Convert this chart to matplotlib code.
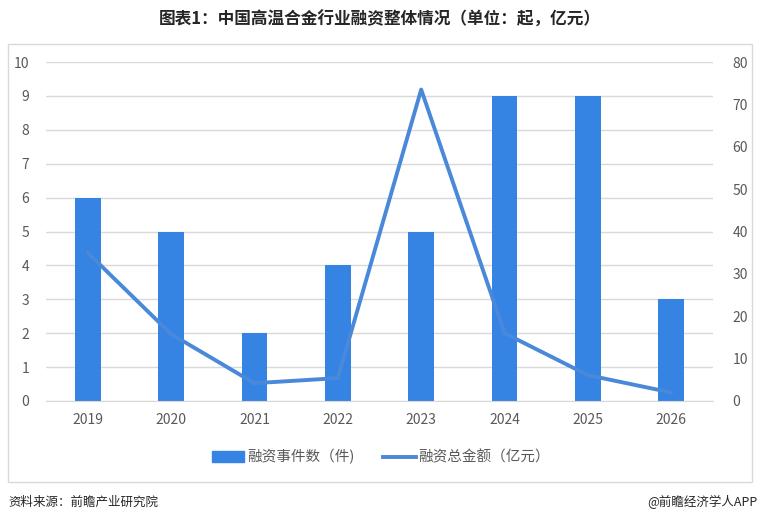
import numpy as np
import matplotlib.pyplot as plt
from matplotlib.patches import Rectangle

plt.rcParams['font.family'] = ['Noto Sans CJK SC', 'DejaVu Sans']

years = ["2019", "2020", "2021", "2022", "2023", "2024", "2025", "2026"]
deal_counts = [6, 5, 2, 4, 5, 9, 9, 3]
deal_amounts = [35, 15.8, 4.2, 5.4, 73.5, 16, 6.1, 2.0]

bar_color = "#3583E3"
line_color = "#4A88D9"
grid_color = "#D9D9D9"
text_color = "#595959"

fig = plt.figure(figsize=(7.6, 5.24), dpi=100)

# chart frame
fig.patches.append(Rectangle((8 / 760, 1 - 482 / 524), 744 / 760, 438 / 524,
                             transform=fig.transFigure, fill=False,
                             edgecolor=grid_color, linewidth=1.0))

ax = fig.add_axes([46 / 760, 1 - 401 / 524, 667 / 760, 339 / 524])
x = np.arange(len(years))
ax.bar(x, deal_counts, width=0.31, color=bar_color, zorder=2)
ax.set_xlim(-0.5, len(years) - 0.5)
ax.set_ylim(0, 10)
ax.set_yticks(range(0, 11))
ax.set_xticks(x)
ax.set_xticklabels(years)
ax.grid(axis="y", color=grid_color, linewidth=1.0, zorder=0)
for s in ["top", "left", "right"]:
    ax.spines[s].set_visible(False)
ax.spines["bottom"].set_color(grid_color)
ax.tick_params(axis="both", length=0, colors=text_color, labelsize=10)
ax.tick_params(axis="y", pad=12)
ax.tick_params(axis="x", pad=9)

ax2 = ax.twinx()
ax2.plot(x, deal_amounts, color=line_color, linewidth=2.8, solid_capstyle="round")
ax2.set_ylim(0, 80)
ax2.set_yticks(range(0, 81, 10))
for s in ["top", "left", "right", "bottom"]:
    ax2.spines[s].set_visible(False)
ax2.tick_params(axis="y", length=0, colors=text_color, labelsize=10, pad=14)

# legend
handles = [Rectangle((0, 0), 1, 1, color=bar_color),
           plt.Line2D([0], [0], color=line_color, linewidth=2.8)]
fig.legend(handles, ["融资事件数（件)", "融资总金额（亿元）"],
           loc="center", bbox_to_anchor=(381 / 760, 1 - 457 / 524), ncol=2,
           frameon=False, fontsize=10.5, labelcolor=text_color,
           handlelength=2.2, handletextpad=0.2, columnspacing=2.0)

fig.text(0.5, 1 - 20 / 524, "图表1：中国高温合金行业融资整体情况（单位：起，亿元）",
         ha="center", va="center", fontsize=12, fontweight="bold", color="#262626")
fig.text(8 / 760, 1 - 502 / 524, "资料来源：前瞻产业研究院",
         ha="left", va="center", fontsize=9, color="#262626")
fig.text(757 / 760, 1 - 502 / 524, "@前瞻经济学人APP",
         ha="right", va="center", fontsize=9, color="#262626")

fig.savefig("out.png", dpi=100)
